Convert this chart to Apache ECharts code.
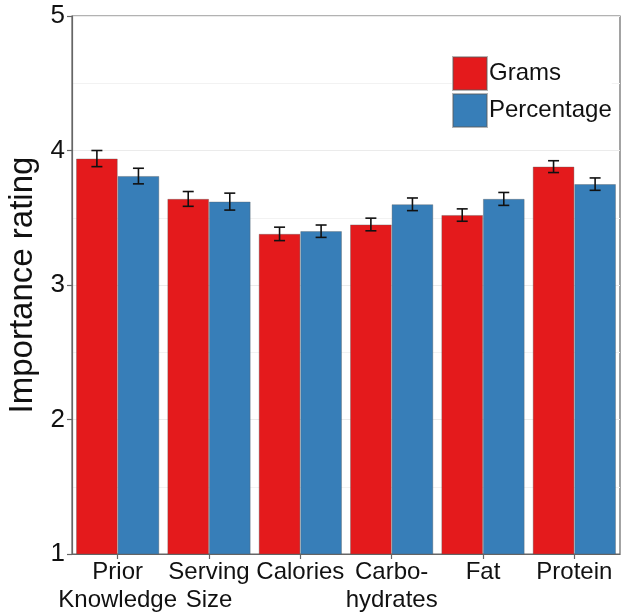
<!DOCTYPE html>
<html>
<head>
<meta charset="utf-8">
<script src="https://cdn.jsdelivr.net/npm/echarts@6/dist/echarts.min.js"></script>
<style>
html,body{margin:0;padding:0;background:#fff;}
#chart{width:625px;height:616px;}
</style>
</head>
<body>
<div id="chart"></div>
<script>
var categories = ['Prior\nKnowledge', 'Serving\nSize', 'Calories', 'Carbo-\nhydrates', 'Fat', 'Protein'];
var grams = [3.94, 3.64, 3.38, 3.45, 3.52, 3.88];
var gramsErr = [0.06, 0.055, 0.05, 0.047, 0.046, 0.044];
var percentage = [3.81, 3.62, 3.40, 3.60, 3.64, 3.75];
var percentageErr = [0.058, 0.063, 0.046, 0.047, 0.048, 0.046];
var yTicks = [1, 2, 3, 4, 5];

var FONT = "'Liberation Sans', Arial, Helvetica, sans-serif";
var RED = '#E41A1C', BLUE = '#377EB8';
var CAT_GAP = 0.09;

function errData(vals, errs) {
  return vals.map(function (v, i) { return [i, v - errs[i], v + errs[i]]; });
}

function errRender(side) {
  return function (params, api) {
    var i = api.value(0);
    var lo = api.coord([i, api.value(1)]);
    var hi = api.coord([i, api.value(2)]);
    var band = api.size([1, 0])[0];
    var barW = band * (1 - CAT_GAP) / 2;
    var x = lo[0] + side * barW / 2;
    var cap = 5.5;
    var st = { stroke: '#111', lineWidth: 1.6 };
    return {
      type: 'group',
      children: [
        { type: 'line', shape: { x1: x, y1: lo[1], x2: x, y2: hi[1] }, style: st },
        { type: 'line', shape: { x1: x - cap, y1: lo[1], x2: x + cap, y2: lo[1] }, style: st },
        { type: 'line', shape: { x1: x - cap, y1: hi[1], x2: x + cap, y2: hi[1] }, style: st }
      ]
    };
  };
}

var chart = echarts.init(document.getElementById('chart'), null, { renderer: 'canvas' });
chart.setOption({
  animation: false,
  backgroundColor: '#fff',
  textStyle: { fontFamily: FONT },
  grid: {
    left: 72, right: 5, top: 16, bottom: 62,
    outerBoundsMode: 'none',
    containLabel: false,
    show: true, borderColor: '#666', borderWidth: 1.2, backgroundColor: 'transparent'
  },
  legend: {
    orient: 'vertical',
    left: 452, top: 56,
    itemWidth: 34, itemHeight: 33, itemGap: 2,
    padding: 0,
    backgroundColor: '#fff',
    icon: 'rect',
    textStyle: { fontFamily: FONT, fontSize: 24, color: '#111', padding: [0, 0, 0, -3] },
    data: ['Grams', 'Percentage']
  },
  xAxis: {
    type: 'category',
    data: categories,
    axisLine: { show: true, lineStyle: { color: '#666', width: 1.2 } },
    axisTick: { show: true, alignWithLabel: true, length: 5, lineStyle: { color: '#666', width: 1.2 } },
    axisLabel: { interval: 0, fontSize: 24, color: '#111', lineHeight: 28, margin: 4, fontFamily: FONT },
    splitLine: { show: false }
  },
  yAxis: {
    type: 'value',
    min: yTicks[0], max: yTicks[yTicks.length - 1], interval: 1,
    name: 'Importance rating',
    nameLocation: 'middle',
    nameGap: 31,
    nameTextStyle: { fontSize: 33, color: '#111', fontFamily: FONT },
    axisLine: { show: true, lineStyle: { color: '#666', width: 1.2 } },
    axisTick: { show: true, length: 5, lineStyle: { color: '#666', width: 1.2 } },
    axisLabel: { fontSize: 26, color: '#111', margin: 7, fontFamily: FONT },
    splitLine: { show: true, lineStyle: { color: '#ebebeb', width: 1 } },
    minorTick: { show: false, splitNumber: 2 },
    minorSplitLine: { show: true, lineStyle: { color: '#f2f2f2', width: 1 } }
  },
  series: [
    {
      name: 'Grams', type: 'bar', data: grams,
      barGap: '0%', barCategoryGap: (CAT_GAP * 100) + '%',
      itemStyle: { color: RED, borderColor: 'rgba(90,90,90,0.45)', borderWidth: 0.8 }
    },
    {
      name: 'Percentage', type: 'bar', data: percentage,
      barGap: '0%', barCategoryGap: (CAT_GAP * 100) + '%',
      itemStyle: { color: BLUE, borderColor: 'rgba(90,90,90,0.45)', borderWidth: 0.8 }
    },
    {
      type: 'custom', name: 'gErr', renderItem: errRender(-1),
      data: errData(grams, gramsErr), encode: { x: 0, y: [1, 2] }, z: 10, silent: true
    },
    {
      type: 'custom', name: 'pErr', renderItem: errRender(1),
      data: errData(percentage, percentageErr), encode: { x: 0, y: [1, 2] }, z: 10, silent: true
    }
  ]
});
</script>
</body>
</html>
